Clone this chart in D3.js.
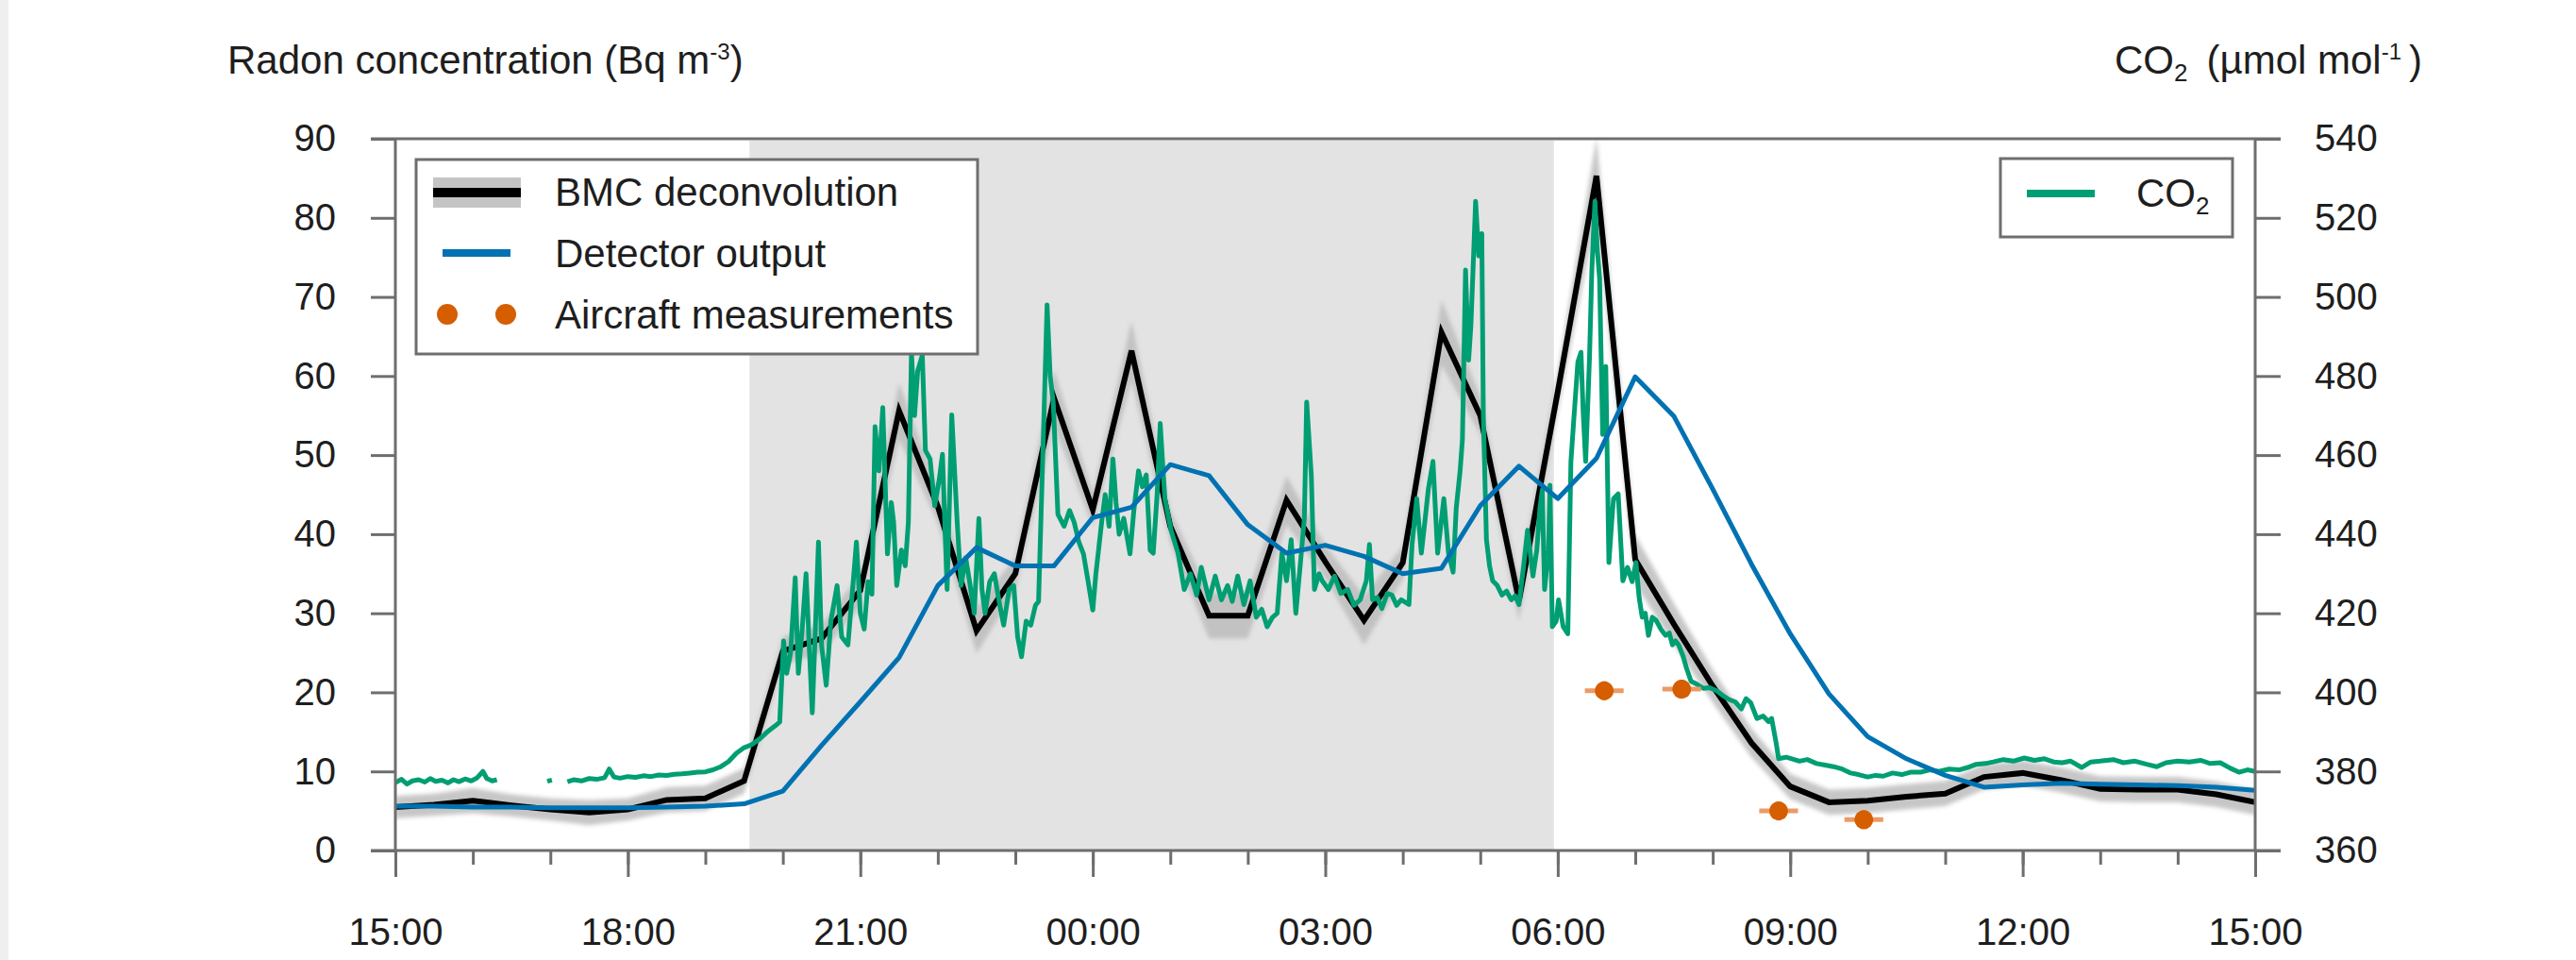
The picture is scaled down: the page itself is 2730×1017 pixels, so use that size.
<!DOCTYPE html>
<html><head><meta charset="utf-8">
<script src="https://cdn.jsdelivr.net/npm/d3@7"></script>
<style>
html,body{margin:0;padding:0;background:#fff;}
svg{display:block;font-family:"Liberation Sans",Arial,sans-serif;}
</style></head><body>
<svg id="chart" width="2730" height="1017"></svg>
<script>
// ---------- DATA (hours after 15:00 on day 1) ----------
const halfHours = [0,0.5,1,1.5,2,2.5,3,3.5,4,4.5,5,5.5,6,6.5,7,7.5,8,8.5,9,9.5,10,10.5,11,11.5,12,12.5,13,13.5,14,14.5,15,15.5,16,16.5,17,17.5,18,18.5,19,19.5,20,20.5,21,21.5,22,22.5,23,23.5,24];
const bmcValues = [5.5,5.8,6.3,5.7,5.2,4.8,5.2,6.4,6.6,8.8,25.2,26.8,32.9,55.6,43.5,27.8,35.0,57.2,43.1,63.2,41.0,29.7,29.7,44.3,36.5,29.1,36.4,65.5,55.0,31.6,58.0,85.3,36.8,28.6,20.8,13.6,8.1,6.1,6.3,6.8,7.2,9.3,9.8,8.9,7.8,7.7,7.7,7.1,6.1];
const bmcUncertainty = [0.8,0.8,1.0,0.8,0.8,1.0,0.8,1.0,1.0,1.0,1.2,1.2,1.5,3.0,1.5,2.3,1.5,3.0,1.5,3.2,1.5,2.3,2.3,2.5,1.5,2.5,1.5,3.5,1.8,2.0,2.0,4.3,2.5,2.0,1.5,1.2,1.0,1.0,1.0,1.0,1.0,1.0,1.0,1.0,1.0,1.0,1.0,1.0,1.0];
const detectorValues = [5.6,5.6,5.5,5.5,5.4,5.4,5.4,5.5,5.6,5.9,7.5,13.3,18.8,24.4,33.5,38.3,36.0,36.0,42.1,43.4,48.8,47.4,41.2,37.6,38.6,37.2,35.0,35.7,43.6,48.6,44.5,49.6,59.9,54.9,45.7,36.2,27.4,19.8,14.4,11.6,9.5,8.0,8.3,8.5,8.4,8.3,8.2,8.0,7.6];

const co2Hours = [0,0.08,0.15,0.22,0.3,0.38,0.45,0.52,0.6,0.68,0.75,0.82,0.9,0.98,1.05,1.13,1.18,1.25,1.31,1.6,1.96,2.02,2.1,2.22,2.3,2.4,2.5,2.6,2.7,2.76,2.82,2.9,3.0,3.1,3.2,3.3,3.4,3.5,3.6,3.7,3.8,3.9,4.0,4.1,4.2,4.3,4.4,4.5,4.6,4.7,4.8,4.9,4.96,
5.01,5.05,5.1,5.16,5.2,5.25,5.3,5.34,5.38,5.42,5.46,5.5,5.56,5.62,5.7,5.76,5.84,5.9,5.95,6.0,6.05,6.1,6.15,6.19,6.24,6.29,6.35,6.4,6.43,6.47,6.53,6.58,6.62,6.66,6.7,6.74,6.8,6.84,6.9,6.96,7.02,7.06,7.12,7.18,7.25,7.3,7.36,7.41,7.47,7.53,7.57,7.61,7.67,7.73,7.8,7.85,7.92,7.98,8.03,8.08,8.14,8.2,8.26,8.3,8.37,8.41,8.45,8.49,8.55,8.63,8.7,8.76,8.82,8.88,8.94,9.0,9.04,9.08,9.12,9.16,9.21,9.26,9.3,9.34,9.4,9.48,9.53,9.59,9.64,9.69,9.74,9.78,9.83,9.87,9.93,10.01,10.1,10.18,10.26,10.34,10.4,10.5,10.58,10.66,10.74,10.8,10.87,10.95,11.03,11.11,11.18,11.25,11.32,11.38,11.44,11.5,11.56,11.62,11.68,11.73,11.76,11.82,11.86,11.92,11.96,12.04,12.12,12.2,12.29,12.37,12.45,12.53,12.57,12.61,12.67,12.73,12.8,12.86,12.92,12.98,13.08,13.12,13.18,13.24,13.29,13.33,13.39,13.45,13.49,13.53,13.59,13.65,13.69,13.74,13.77,13.81,13.85,13.88,13.94,13.98,14.02,14.04,14.08,14.12,14.16,14.22,14.28,14.34,14.4,14.45,14.5,14.56,14.61,14.68,14.73,14.77,14.8,14.83,14.88,14.9,14.93,14.98,15.01,15.07,15.13,15.17,15.21,15.26,15.3,15.33,15.36,15.41,15.44,15.48,15.51,15.54,15.58,15.62,15.66,15.7,15.72,15.78,15.84,15.9,15.96,16.01,16.05,16.09,16.13,16.17,16.22,16.27,16.33,16.39,16.44,16.48,16.52,16.56,16.62,16.66,16.72,16.8,16.88,16.96,17.05,17.13,17.21,17.29,17.37,17.43,17.49,17.57,17.65,17.72,17.76,17.82,17.85,17.95,18.02,18.12,18.22,18.34,18.45,18.56,18.67,18.78,18.88,19.0,19.1,19.2,19.32,19.44,19.55,19.68,19.8,19.92,20.05,20.18,20.29,20.4,20.52,20.62,20.75,20.88,21.02,21.15,21.28,21.4,21.51,21.62,21.76,21.88,22.0,22.17,22.3,22.45,22.6,22.73,22.85,23.0,23.15,23.3,23.42,23.55,23.68,23.79,23.9,24.0];
const co2Values = [377.2,378.0,376.8,377.6,377.9,377.3,378.2,377.5,377.8,377.1,377.9,377.4,378.1,377.6,378.3,380.0,378.2,377.6,377.9,null,377.5,377.8,null,377.4,377.9,377.6,378.2,378.0,378.4,380.6,378.6,378.3,378.7,378.5,378.9,378.7,379.1,379.0,379.3,379.4,379.6,379.8,379.9,380.4,381.2,382.5,384.6,386.0,386.8,388.2,390.0,391.5,392.5,
413,404.8,410,429,404.8,416,430,412,394.8,416,438,412,401.8,418,427,414,412,426,438,420,416,428,424.8,467.2,456,472,435,448,443,427,436,432,443,486,470,481.2,485.2,461.2,459,447.2,454,460.2,426,470.2,443,427,434,428,420,444,426,420,428,430,422,417,426,427,414,409,418,417,422,423,470,498,480,473.2,445,442,446,443,438,435,428,420.8,430,437,444,450,442,459,448,440,444,435,446,456,452,455,436,435.2,450,468,449,441,435.2,426,430,424.6,431.6,423.4,429.4,423.4,427,423,429.4,422.2,428.2,419,421,416.6,419,420,435.2,428.2,438.6,420,432.8,444,473.4,454.8,426,430,428.2,426,429.4,425,426,422,423.4,428.2,437.4,423.4,424,421.2,425,424.6,422,423.4,422.2,437.4,449,435.2,444,451.4,458.4,435.2,442,449,435.2,430.4,446.6,456,464,506.8,484,493,524.2,510.4,516,469.8,438.6,432,428.2,427,424.6,425.6,423.4,424.4,422.2,432,441,429.4,436,446.6,451.2,426,436,452.4,416.6,418,423.4,416.6,414.8,458.4,469.8,483.6,486,470,458.4,484.8,506.8,524.2,512,504.6,465.2,482.4,432.8,444,449,450.2,428.2,431.6,428,432.8,424,419,420,414.4,419,418.2,416,414.4,415,412,413,412,409,406.2,402.8,402,401,401.2,400.4,399.2,398.2,397.6,395.8,398.4,397.4,393.4,394,392.6,393.4,387,383.2,383.6,383.2,382.6,383,382,381.6,381.2,380.6,379.6,379.2,378.6,379,378.8,379.6,379.2,379.8,379.8,380.4,380,380.6,380.4,381,381.8,382,382.4,383,382.6,383.4,382.8,383.2,382.4,382.2,382.6,381,382.4,382.6,383,382.2,382.6,381.8,381.2,382.2,382.6,382.4,382.8,382,382.2,380.8,379.8,380.4,380];

const aircraftHours = [15.6,16.6,17.85,18.95];
const aircraftValues = [20.2,20.4,5.0,3.9];
const aircraftHourErr = [0.25,0.25,0.25,0.25];
const aircraftValueErr = [1.2,1.2,1.2,1.2];

const nightPeriod = [4.57,14.95];   // shaded (dark) period
const radonTicks = [0,10,20,30,40,50,60,70,80,90];
const co2Ticks = [360,380,400,420,440,460,480,500,520,540];
const majorTickHours = [0,3,6,9,12,15,18,21,24];
const minorTickHours = [0,1,2,3,4,5,6,7,8,9,10,11,12,13,14,15,16,17,18,19,20,21,22,23,24];

const seriesNames = {bmc:"BMC deconvolution", det:"Detector output", air:"Aircraft measurements", co2:"CO"};
const colors = {bmc:"#000000", band:"#bdbdbd", det:"#0072B2", co2:"#009E73", air:"#D55E00", shade:"#e3e3e3", axis:"#6e6e6e", text:"#1e1e1e"};

// ---------- SCALES ----------
const m = {left:419, right:2390, top:147, bottom:901};
const base = new Date(2016,0,1,15,0,0);
const toDate = h => new Date(base.getTime() + h*3600000);
const x = d3.scaleTime().domain([toDate(0), toDate(24)]).range([m.left, m.right]);
const yL = d3.scaleLinear().domain([0,90]).range([m.bottom, m.top]);
const yR = d3.scaleLinear().domain([360,540]).range([m.bottom, m.top]);

const svg = d3.select("#chart");
svg.append("rect").attr("x",0).attr("y",0).attr("width",2730).attr("height",1017).attr("fill","#fff");
svg.append("rect").attr("x",0).attr("y",0).attr("width",9).attr("height",1017).attr("fill","#efefef");

// night shading
svg.append("rect")
  .attr("x", x(toDate(nightPeriod[0]))).attr("y", m.top+2)
  .attr("width", x(toDate(nightPeriod[1])) - x(toDate(nightPeriod[0])))
  .attr("height", m.bottom - m.top - 2)
  .attr("fill", colors.shade);

const defs = svg.append("defs");
defs.append("filter").attr("id","blur").append("feGaussianBlur").attr("stdDeviation",2);
defs.append("clipPath").attr("id","plotclip").append("rect")
  .attr("x",m.left).attr("y",m.top).attr("width",m.right-m.left).attr("height",m.bottom-m.top);

const plot = svg.append("g").attr("clip-path","url(#plotclip)");

const bmc = halfHours.map((h,i)=>({t:toDate(h), v:bmcValues[i], e:bmcUncertainty[i]}));
const det = halfHours.map((h,i)=>({t:toDate(h), v:detectorValues[i]}));
const co2 = co2Hours.map((h,i)=>({t:toDate(h), v:co2Values[i]}));

// uncertainty band
plot.append("path").datum(bmc)
  .attr("d", d3.area().x(d=>x(d.t)).y0(d=>yL(d.v-d.e-0.6)).y1(d=>yL(d.v+d.e+0.6)))
  .attr("fill", colors.band).attr("opacity",0.85).attr("filter","url(#blur)");

// BMC line
plot.append("path").datum(bmc)
  .attr("d", d3.line().x(d=>x(d.t)).y(d=>yL(d.v)))
  .attr("fill","none").attr("stroke",colors.bmc).attr("stroke-width",6).attr("stroke-linejoin","miter");

// CO2 line
plot.append("path").datum(co2)
  .attr("d", d3.line().defined(d=>d.v!=null).x(d=>x(d.t)).y(d=>yR(d.v)))
  .attr("fill","none").attr("stroke",colors.co2).attr("stroke-width",5).attr("stroke-linejoin","round");

// Detector line
plot.append("path").datum(det)
  .attr("d", d3.line().x(d=>x(d.t)).y(d=>yL(d.v)))
  .attr("fill","none").attr("stroke",colors.det).attr("stroke-width",5).attr("stroke-linejoin","round");

// aircraft measurements
const air = aircraftHours.map((h,i)=>({h, v:aircraftValues[i], he:aircraftHourErr[i], ve:aircraftValueErr[i]}));
const ag = plot.append("g");
ag.selectAll("line.hx").data(air).join("line")
  .attr("x1",d=>x(toDate(d.h-d.he))).attr("x2",d=>x(toDate(d.h+d.he)))
  .attr("y1",d=>yL(d.v)).attr("y2",d=>yL(d.v))
  .attr("stroke","#ec9a66").attr("stroke-width",5);
ag.selectAll("line.vy").data(air).join("line")
  .attr("x1",d=>x(toDate(d.h))).attr("x2",d=>x(toDate(d.h)))
  .attr("y1",d=>yL(d.v-d.ve)).attr("y2",d=>yL(d.v+d.ve))
  .attr("stroke","#e07a3a").attr("stroke-width",5);
ag.selectAll("circle").data(air).join("circle")
  .attr("cx",d=>x(toDate(d.h))).attr("cy",d=>yL(d.v)).attr("r",10)
  .attr("fill",colors.air);

// ---------- AXES ----------
const styleAxis = g => {
  g.select(".domain").remove();
  g.selectAll(".tick line").attr("stroke",colors.axis).attr("stroke-width",3);
  g.selectAll(".tick text").attr("fill",colors.text).attr("font-size",40)
   .attr("font-family",'"Liberation Sans",Arial,sans-serif');
};
svg.append("g").attr("transform",`translate(${m.left},0)`)
  .call(d3.axisLeft(yL).tickValues(radonTicks).tickSize(26).tickPadding(37).tickFormat(d3.format("d")))
  .call(styleAxis);
svg.append("g").attr("transform",`translate(${m.right},0)`)
  .call(d3.axisRight(yR).tickValues(co2Ticks).tickSize(27).tickPadding(36).tickFormat(d3.format("d")))
  .call(styleAxis);
svg.append("g").attr("transform",`translate(0,${m.bottom})`)
  .call(d3.axisBottom(x).tickValues(minorTickHours.map(toDate)).tickSize(15).tickFormat(""))
  .call(styleAxis);
svg.append("g").attr("transform",`translate(0,${m.bottom})`)
  .call(d3.axisBottom(x).tickValues(majorTickHours.map(toDate)).tickSize(28).tickPadding(44).tickFormat(d3.timeFormat("%H:%M")))
  .call(styleAxis);

// frame lines
const frame = svg.append("g").attr("stroke",colors.axis).attr("stroke-width",3);
frame.append("line").attr("x1",m.left-26).attr("x2",m.right+27).attr("y1",m.top).attr("y2",m.top);
frame.append("line").attr("x1",m.left-26).attr("x2",m.right+27).attr("y1",m.bottom).attr("y2",m.bottom);
frame.append("line").attr("x1",m.left).attr("x2",m.left).attr("y1",m.top).attr("y2",m.bottom);
frame.append("line").attr("x1",m.right).attr("x2",m.right).attr("y1",m.top).attr("y2",m.bottom);

// ---------- AXIS TITLES ----------
const t1 = svg.append("text").attr("x",241).attr("y",78).attr("font-size",42).attr("fill",colors.text);
t1.append("tspan").text("Radon concentration (Bq m");
t1.append("tspan").text("-3").attr("font-size",24).attr("dy",-15);
t1.append("tspan").text(")").attr("dy",15);

const t2 = svg.append("text").attr("x",2241).attr("y",78).attr("font-size",42).attr("fill",colors.text);
t2.append("tspan").text("CO");
t2.append("tspan").text("2").attr("font-size",26).attr("dy",8);
t2.append("tspan").text("(µmol mol").attr("dy",-8).attr("dx",20);
t2.append("tspan").text("-1").attr("font-size",24).attr("dy",-15);
t2.append("tspan").text(")").attr("dy",15).attr("dx",8);

// ---------- LEGENDS ----------
const lg = svg.append("g");
lg.append("rect").attr("x",441).attr("y",169).attr("width",595).attr("height",206)
  .attr("fill","#fff").attr("stroke",colors.axis).attr("stroke-width",3);
lg.append("rect").attr("x",459).attr("y",188).attr("width",93).attr("height",32).attr("fill","#c4c4c4");
lg.append("line").attr("x1",459).attr("x2",552).attr("y1",204).attr("y2",204).attr("stroke",colors.bmc).attr("stroke-width",10);
lg.append("line").attr("x1",469).attr("x2",541).attr("y1",268).attr("y2",268).attr("stroke",colors.det).attr("stroke-width",8);
lg.append("circle").attr("cx",474).attr("cy",333).attr("r",11).attr("fill",colors.air);
lg.append("circle").attr("cx",536).attr("cy",333).attr("r",11).attr("fill",colors.air);
[[seriesNames.bmc,218],[seriesNames.det,283],[seriesNames.air,348]].forEach(([s,yb])=>{
  lg.append("text").attr("x",588).attr("y",yb).attr("font-size",42).attr("fill",colors.text).text(s);
});

const lg2 = svg.append("g");
lg2.append("rect").attr("x",2120).attr("y",168).attr("width",246).attr("height",83)
  .attr("fill","#fff").attr("stroke",colors.axis).attr("stroke-width",3);
lg2.append("line").attr("x1",2148).attr("x2",2220).attr("y1",205).attr("y2",205).attr("stroke",colors.co2).attr("stroke-width",8);
const lt = lg2.append("text").attr("x",2264).attr("y",219).attr("font-size",42).attr("fill",colors.text);
lt.append("tspan").text(seriesNames.co2);
lt.append("tspan").text("2").attr("font-size",26).attr("dy",8);
</script>
</body></html>
